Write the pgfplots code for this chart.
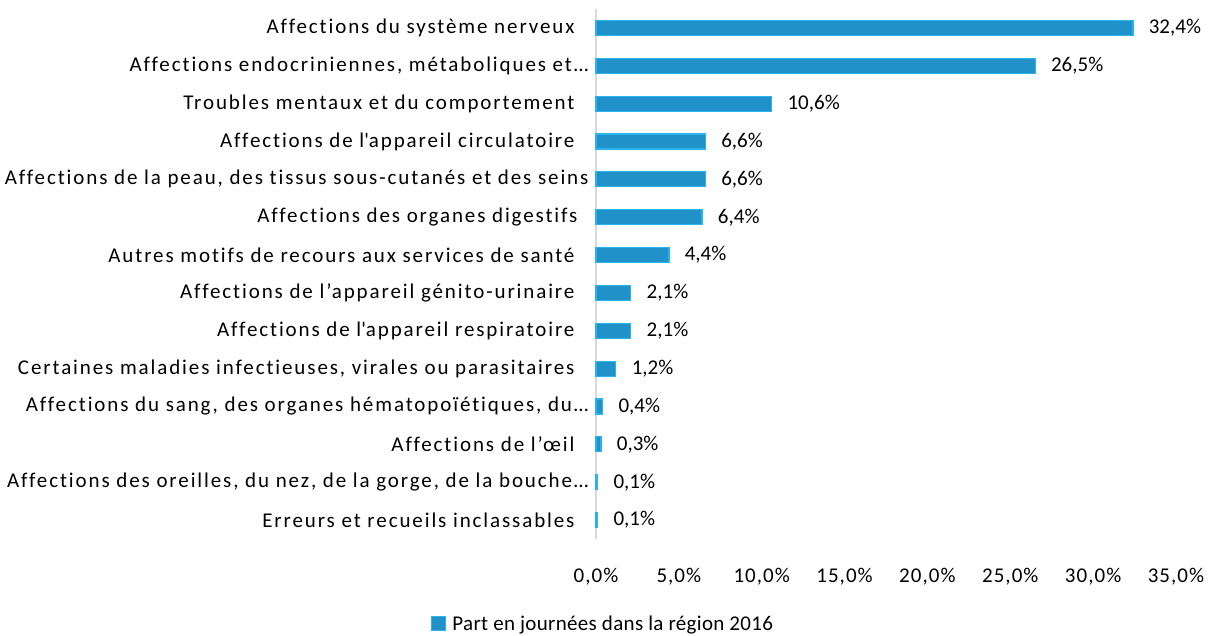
\documentclass[border=0pt]{standalone}
\usepackage{pgfplots}
\pgfplotsset{compat=1.18}
\usepackage{fontspec}
\setmainfont{Carlito}
\newfontfamily\catfont[LetterSpace=9,Ligatures={NoCommon}]{Carlito}
\newfontfamily\tickfont[LetterSpace=5]{Carlito}
\newfontfamily\legfont[LetterSpace=1.5,Ligatures={NoCommon}]{Carlito}
\definecolor{barfill}{RGB}{33,145,201}
\definecolor{barline}{RGB}{40,180,240}
\definecolor{axline}{RGB}{217,217,217}
\newcommand{\sq}{\textquotesingle}
\newcommand{\tr}{\hspace*{14pt}}
\begin{document}
\begin{tikzpicture}[x=1pt,y=1pt]
\useasboundingbox (-596,-97) rectangle (615,539);
\begin{axis}[
  scale only axis,
  width=580pt, height=530pt,
  xmin=0, xmax=35,
  ymin=-0.5, ymax=13.5,
  y dir=reverse,
  xbar, bar width=15pt,
  axis line style={draw=none},
  separate axis lines,
  x axis line style={draw=none},
  y axis line style={draw=none},
  xtick={0,5,...,35},
  xticklabels={{0,0\%},{5,0\%},{10,0\%},{15,0\%},{20,0\%},{25,0\%},{30,0\%},{35,0\%}},
  ytick={0,...,13},
  yticklabels={
    {Affections du système nerveux\tr},
    {Affections endocriniennes, métaboliques et…},
    {Troubles mentaux et du comportement\tr},
    {Affections de l\sq appareil circulatoire\tr},
    {Affections de la peau, des tissus sous-cutanés et des seins},
    {Affections des organes digestifs\hspace*{11pt}},
    {Autres motifs de recours aux services de santé\tr},
    {Affections de l’appareil génito-urinaire\tr},
    {Affections de l\sq appareil respiratoire\tr},
    {Certaines maladies infectieuses, virales ou parasitaires\tr},
    {Affections du sang, des organes hématopoïétiques, du…},
    {Affections de l’œil\tr},
    {Affections des oreilles, du nez, de la gorge, de la bouche…},
    {Erreurs et recueils inclassables\tr}},
  major tick length=0pt,
  tick style={draw=none},
  xticklabel style={yshift=-26pt, font=\tickfont\fontsize{21}{25}\selectfont},
  yticklabel style={xshift=-4pt, font=\catfont\fontsize{21}{25}\selectfont},
  /pgf/number format/assume math mode=true,
  nodes near coords={\pgfmathprintnumber[fixed,fixed zerofill,precision=1,use comma]{\pgfplotspointmeta}\%},
  nodes near coords style={font=\fontsize{21}{25}\selectfont, xshift=12pt},
  legend style={at={(0.0125,-0.16)}, anchor=center, draw=none, font=\legfont\fontsize{21}{25}\selectfont, legend cell align=left},
  legend image code/.code={\draw[#1, line width=1pt] (0pt,-7pt) rectangle (14pt,7pt);},
  legend style={/tikz/every even column/.append style={column sep=0pt}},
  clip=false,
]
\draw[axline, line width=1.5pt] (axis cs:0,-0.5) -- (axis cs:0,13.5);
\addplot[fill=barfill, draw=barline, line width=1.2pt] coordinates {
(32.4,0) (26.5,1) (10.6,2) (6.6,3) (6.6,4) (6.4,5) (4.4,6) (2.1,7) (2.1,8) (1.2,9) (0.4,10) (0.3,11) (0.1,12) (0.1,13)};
\addlegendentry{\hspace{4pt}Part en journées dans la région 2016}
\end{axis}
\end{tikzpicture}
\end{document}
